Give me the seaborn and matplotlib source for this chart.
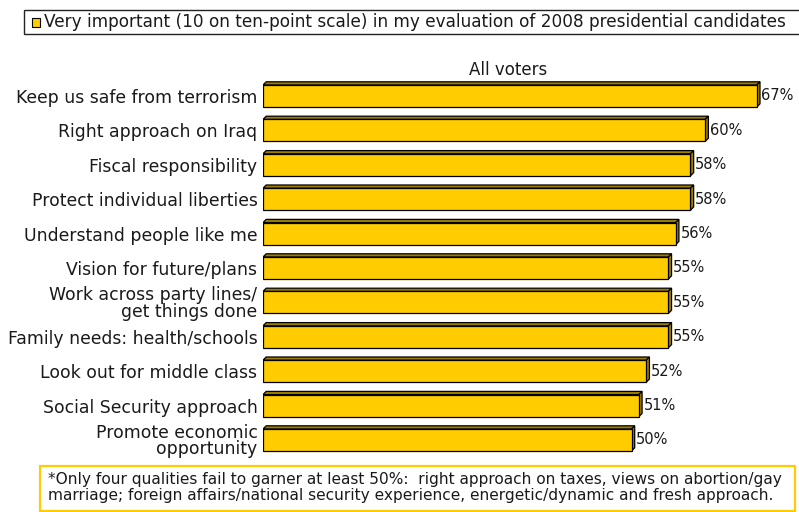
import matplotlib
matplotlib.use("Agg")
import matplotlib.pyplot as plt
from matplotlib.patches import Rectangle, Polygon
import seaborn as sns
import pandas as pd

categories = [
    "Keep us safe from terrorism",
    "Right approach on Iraq",
    "Fiscal responsibility",
    "Protect individual liberties",
    "Understand people like me",
    "Vision for future/plans",
    "Work across party lines/\nget things done",
    "Family needs: health/schools",
    "Look out for middle class",
    "Social Security approach",
    "Promote economic\nopportunity",
]
values = [67, 60, 58, 58, 56, 55, 55, 55, 52, 51, 50]
value_labels = ["67%", "60%", "58%", "58%", "56%", "55%", "55%", "55%", "52%", "51%", "50%"]
legend_text = "Very important (10 on ten-point scale) in my evaluation of 2008 presidential candidates"
panel_title = "All voters"
footnote = ("*Only four qualities fail to garner at least 50%:  right approach on taxes, views on abortion/gay\n"
            "marriage; foreign affairs/national security experience, energetic/dynamic and fresh approach.")

FACE = "#FFCC00"
SIDE = "#9C7C00"
TXT = "#1a1a1a"

sns.set_theme(style="white")
plt.rcParams["font.family"] = ["DejaVu Sans"]

W, H = 799, 512
fig = plt.figure(figsize=(W / 100, H / 100), dpi=100)
fig.patch.set_facecolor("white")

px_per_unit = 7.37
xmax = 72
ax_left = 263 / W
ax_w = xmax * px_per_unit / W
top_px, bot_px = 78.8, 457.2
ax = fig.add_axes([ax_left, 1 - bot_px / H, ax_w, (bot_px - top_px) / H])

df = pd.DataFrame({"category": categories, "value": values})
sns.barplot(data=df, x="value", y="category", orient="h", color=FACE,
            saturation=1, width=0.64, edgecolor="black", linewidth=0.9, ax=ax, zorder=3)
ax.set_xlim(0, xmax)
ax.set_ylim(len(categories) - 0.5, -0.5)
ax.set_xlabel("")
ax.set_ylabel("")
ax.set_xticks([])
for s in ax.spines.values():
    s.set_visible(False)
ax.tick_params(axis="y", length=0, pad=4)
for lab in ax.get_yticklabels():
    lab.set_fontsize(12.4)
    lab.set_color(TXT)
    lab.set_linespacing(0.88)
    lab.set_multialignment("right")

row_px = (bot_px - top_px) / len(categories)
dx = 3.2 / px_per_unit
dy = 3.2 / row_px
for patch, lbl in zip(ax.patches, value_labels):
    x0 = patch.get_x()
    y0 = patch.get_y()
    w = patch.get_width()
    h = patch.get_height()
    x1 = x0 + w
    top = Polygon([(x0, y0), (x0 + dx, y0 - dy), (x1 + dx, y0 - dy), (x1, y0)],
                  closed=True, facecolor=SIDE, edgecolor="black", linewidth=0.9, zorder=2)
    right = Polygon([(x1, y0), (x1 + dx, y0 - dy), (x1 + dx, y0 + h - dy), (x1, y0 + h)],
                    closed=True, facecolor=SIDE, edgecolor="black", linewidth=0.9, zorder=2)
    ax.add_patch(top)
    ax.add_patch(right)
    ax.text(x1 + dx + 0.2, y0 + h / 2, lbl, ha="left", va="center",
            fontsize=10.5, color=TXT, zorder=4)

# legend box
fig.patches.append(Rectangle((24 / W, 1 - 34 / H), 790 / W, 24 / H, transform=fig.transFigure,
                             facecolor="white", edgecolor="#222222", linewidth=1.0))
fig.patches.append(Rectangle((32 / W, 1 - 27 / H), 8 / W, 9 / H, transform=fig.transFigure,
                             facecolor=FACE, edgecolor="black", linewidth=0.8))
fig.text(44 / W, 1 - 22 / H, legend_text, ha="left", va="center", fontsize=12.2, color=TXT)

fig.text(508 / W, 1 - 70 / H, panel_title, ha="center", va="center", fontsize=12, color=TXT)

# footnote box
fig.patches.append(Rectangle((40 / W, 1 - 511 / H), 755 / W, 45 / H, transform=fig.transFigure,
                             facecolor="white", edgecolor=FACE, linewidth=1.6))
fig.text(48 / W, 1 - 487.5 / H, footnote, ha="left", va="center", fontsize=11.1,
         color=TXT, linespacing=1.08)

fig.savefig("out.png", dpi=100, facecolor="white")
